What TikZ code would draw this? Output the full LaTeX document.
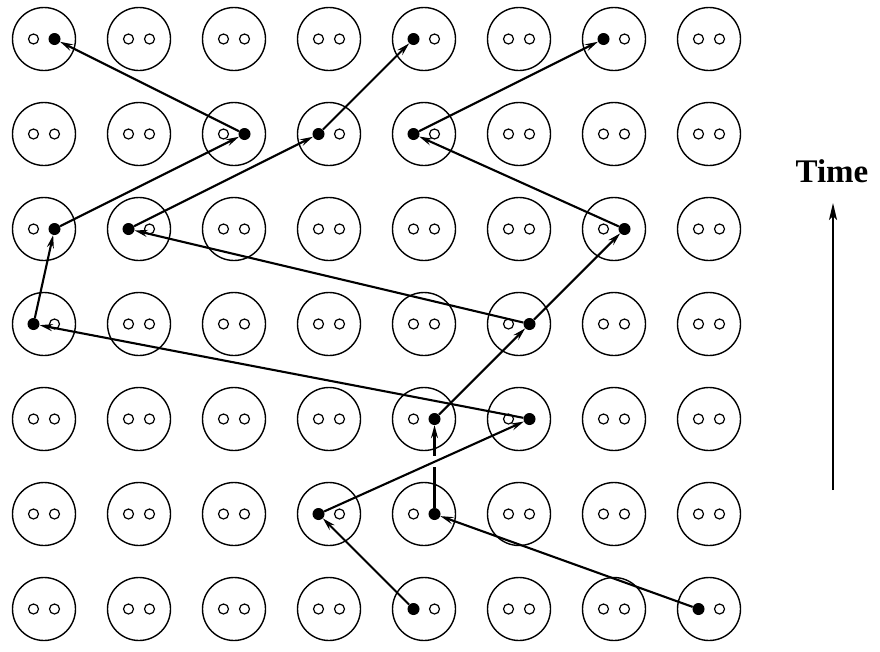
\documentclass[tikz,border=0pt]{standalone}
\usepackage{fontspec}
\setmainfont{Liberation Serif}
\usetikzlibrary{arrows.meta}
\begin{document}
\begin{tikzpicture}[x=1pt,y=-1pt]
\tikzstyle{disc}=[circle, draw, line width=1.4pt, minimum size=63pt, inner sep=0pt]
\tikzstyle{odot}=[circle, draw, line width=1.2pt, fill=white, minimum size=10pt, inner sep=0pt]
\tikzstyle{fdot}=[circle, fill=black, minimum size=12pt, inner sep=0pt]
\tikzstyle{arr}=[line width=2.1pt, -{Stealth[length=13pt,width=7pt,inset=4.5pt]}]
\useasboundingbox (0,0) rectangle (880,651);
%grid
\foreach \c in {0,...,7}
  \foreach \r in {0,...,6}{
    \node[disc] (d\c\r) at (44+95*\c,39+95*\r) {};
    \node[odot] (l\c\r) at ([xshift=-10.5pt]d\c\r.center) {};
    \node[odot] (r\c\r) at ([xshift=10.5pt]d\c\r.center) {};
  }
%filled
\node[fdot] (L46) at (l46) {};
\node[fdot] (L76) at (l76) {};
\node[fdot] (L35) at (l35) {};
\node[fdot] (R45) at (r45) {};
\node[fdot] (R54) at (r54) {};
\node[fdot] (R44) at (r44) {};
\node[fdot] (L03) at (l03) {};
\node[fdot] (R53) at (r53) {};
\node[fdot] (R02) at (r02) {};
\node[fdot] (L12) at (l12) {};
\node[fdot] (R62) at (r62) {};
\node[fdot] (R21) at (r21) {};
\node[fdot] (L31) at (l31) {};
\node[fdot] (L41) at (l41) {};
\node[fdot] (R00) at (r00) {};
\node[fdot] (L40) at (l40) {};
\node[fdot] (L60) at (l60) {};
%arrows
\draw[arr] (L46) -- (L35);
\draw[arr] (L76) -- (R45);
\draw[arr] (R45) -- (R44);
\coordinate (cross) at (intersection of R45--R44 and L35--R54);
\draw[white, line width=5pt] ([yshift=-5.5pt]cross) -- ([yshift=5.5pt]cross);
\draw[arr] (L35) -- (R54);
\draw[arr] (R54) -- (L03);
\draw[arr] (R44) -- (R53);
\draw[arr] (L03) -- (R02);
\draw[arr] (R53) -- (L12);
\draw[arr] (R53) -- (R62);
\draw[arr] (R02) -- (R21);
\draw[arr] (L12) -- (L31);
\draw[arr] (R62) -- (L41);
\draw[arr] (R21) -- (R00);
\draw[arr] (L31) -- (L40);
\draw[arr] (L41) -- (L60);
%time
\node[font=\bfseries\fontsize{33}{35}\selectfont] (time) at (832,171) {Time};
\coordinate (tbot) at (833,490);
\coordinate (ttop) at (833,203);
\draw[line width=2pt, -{Stealth[length=17pt,width=8pt,inset=4pt]}] (tbot) -- (ttop);
\end{tikzpicture}
\end{document}
